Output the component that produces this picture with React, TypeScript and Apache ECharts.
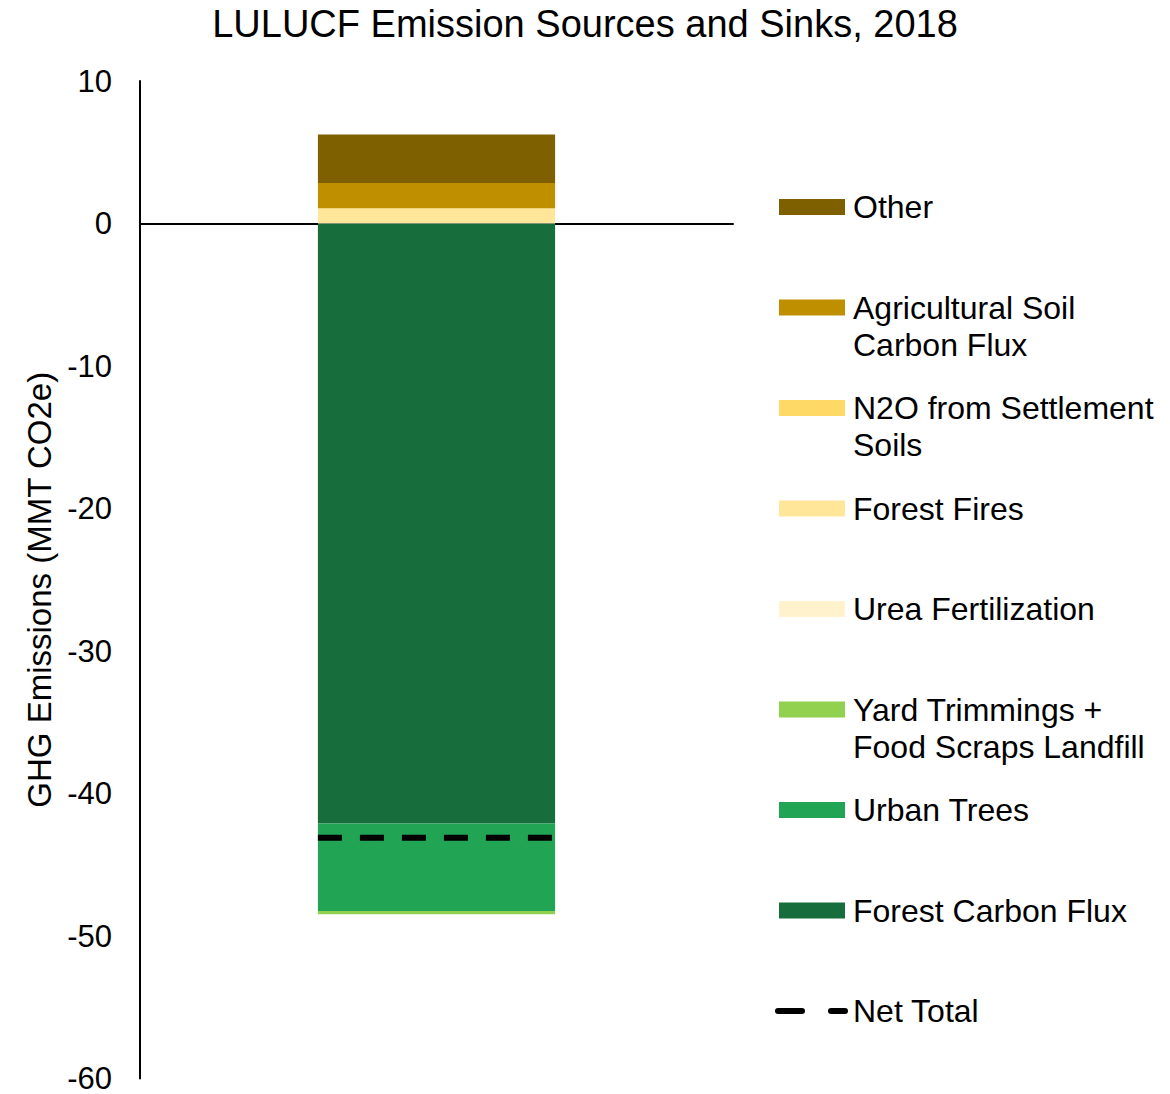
import { useEffect, useRef } from "react";
import * as echarts from "echarts";

// LULUCF emission sources (+) and sinks (-), MMT CO2e
const categories = ["2018"];
const forestCarbonFlux = [-42.1];
const urbanTrees = [-6.15];
const yardTrimmings = [-0.23];
const ureaFertilization = [0.04];
const forestFires = [0.99];
const n2oSettlementSoils = [0.04];
const agriculturalSoil = [1.77];
const other = [3.41];
const netTotal = [-43.1];

const yTicks = { min: -60, max: 10, interval: 10 };

const FONT = "'Liberation Sans', Arial, sans-serif";

type Layer = { name: string; label: string; color: string; values: number[] };

// stacking order, from the zero line outward
const layers: Layer[] = [
  { name: "Forest Carbon Flux", label: "Forest Carbon Flux", color: "#176E3C", values: forestCarbonFlux },
  { name: "Urban Trees", label: "Urban Trees", color: "#21A454", values: urbanTrees },
  { name: "Yard Trimmings + Food Scraps Landfill", label: "Yard Trimmings +\nFood Scraps Landfill", color: "#92D050", values: yardTrimmings },
  { name: "Urea Fertilization", label: "Urea Fertilization", color: "#FFF2CC", values: ureaFertilization },
  { name: "Forest Fires", label: "Forest Fires", color: "#FFE699", values: forestFires },
  { name: "N2O from Settlement Soils", label: "N2O from Settlement\nSoils", color: "#FFD966", values: n2oSettlementSoils },
  { name: "Agricultural Soil Carbon Flux", label: "Agricultural Soil\nCarbon Flux", color: "#BF8F00", values: agriculturalSoil },
  { name: "Other", label: "Other", color: "#7F6000", values: other },
];

export default function App() {
  const ref = useRef<HTMLDivElement>(null);

  useEffect(() => {
    if (!ref.current) return;
    const chart = echarts.init(ref.current, null, { renderer: "svg" });

    const barSeries = layers.map((l) => ({
      name: l.name,
      type: "bar",
      stack: "total",
      barWidth: "40%",
      itemStyle: { color: l.color },
      data: l.values,
    }));

    const netSeries = {
      name: "Net Total",
      type: "custom",
      z: 10,
      encode: { x: 0, y: 1 },
      data: categories.map((_, i) => [i, netTotal[i]]),
      renderItem: (_params: any, api: any) => {
        const c = api.coord([api.value(0), api.value(1)]);
        const band = api.size([1, 0])[0];
        const w = band * 0.4;
        return {
          type: "line",
          shape: { x1: c[0] - w / 2, y1: c[1], x2: c[0] + w / 2, y2: c[1] },
          style: { stroke: "#000", lineWidth: 6, lineDash: [24, 18] },
        };
      },
    };

    // legend, top to bottom: reverse of stacking order, then net total
    const legendTop = 207;
    const legendStep = 100.5;
    const legendItems = [...layers].reverse();
    const legendGraphics: any[] = [];
    const legendText = (text: string, y: number) => ({
      type: "text",
      x: 853,
      y: y - 18.5,
      style: {
        text,
        fontSize: 32,
        lineHeight: 37,
        fontFamily: FONT,
        fill: "#000",
        verticalAlign: "top",
        align: "left",
      },
    });
    legendItems.forEach((l, i) => {
      const yc = legendTop + i * legendStep;
      legendGraphics.push({
        type: "rect",
        shape: { x: 779, y: yc - 8, width: 66, height: 16 },
        style: { fill: l.color },
      });
      legendGraphics.push(legendText(l.label, yc));
    });
    const netY = legendTop + legendItems.length * legendStep;
    legendGraphics.push({
      type: "line",
      shape: { x1: 778, y1: netY, x2: 845, y2: netY },
      style: { stroke: "#000", lineWidth: 6, lineDash: [24, 29], lineCap: "round" },
    });
    legendGraphics.push(legendText("Net Total", netY));

    chart.setOption({
      animation: false,
      backgroundColor: "#fff",
      textStyle: { fontFamily: FONT },
      title: {
        text: "LULUCF Emission Sources and Sinks, 2018",
        left: "center",
        top: 0,
        textStyle: { fontSize: 38, fontWeight: "normal", color: "#000", fontFamily: FONT },
      },
      grid: { left: 140, right: 437, top: 81, bottom: 14, containLabel: false },
      xAxis: {
        type: "category",
        data: categories,
        axisLine: { show: true, onZero: true, lineStyle: { color: "#000", width: 2 } },
        axisTick: { show: false },
        axisLabel: { show: false },
        splitLine: { show: false },
      },
      yAxis: {
        type: "value",
        min: yTicks.min,
        max: yTicks.max,
        interval: yTicks.interval,
        name: "GHG Emissions (MMT CO2e)",
        nameLocation: "middle",
        nameRotate: 90,
        nameGap: 84,
        nameTextStyle: { fontSize: 33, color: "#000", fontFamily: FONT, padding: [0, 20, 0, 0] },
        axisLine: { show: true, lineStyle: { color: "#000", width: 2 } },
        axisTick: { show: false },
        splitLine: { show: false },
        axisLabel: { fontSize: 31, color: "#000", margin: 28, fontFamily: FONT },
      },
      series: [...barSeries, netSeries],
      graphic: legendGraphics,
    });

    return () => chart.dispose();
  }, []);

  return (
    <div
      ref={ref}
      style={{ position: "absolute", left: 0, top: 0, width: 1170, height: 1094 }}
    />
  );
}
